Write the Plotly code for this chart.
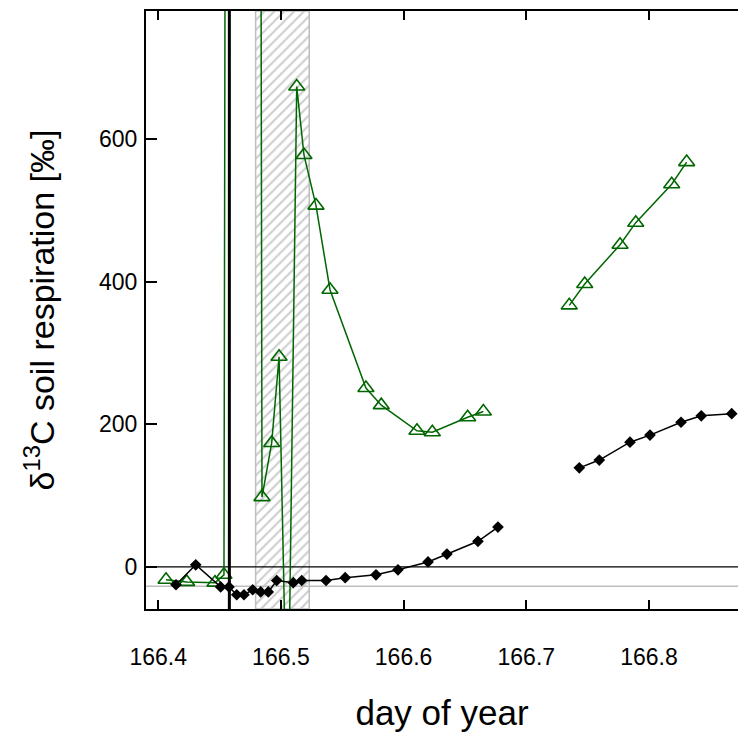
import plotly.graph_objects as go

# ---------------- data ----------------
black_x = [166.4145, 166.4306, 166.4509, 166.4577, 166.4640, 166.4699, 166.4770, 166.4835,
           166.4897, 166.4966, 166.5101, 166.5170, 166.5368, 166.5524, 166.5775, 166.5954,
           166.6199, 166.6353, 166.6606, 166.6769, None,
           166.7432, 166.7595, 166.7845, 166.8008, 166.8261, 166.8426, 166.8674]
black_y = [-25, 3, -28, -28, -39, -39, -32, -35,
           -35, -19, -22, -19, -19, -15, -11, -4,
           7, 18, 36, 56, None,
           139, 150, 175, 185, 203, 212, 215]

green_x = [166.4064, 166.4232, 166.4463, 166.4536, 166.4691, 166.4846, 166.4925, 166.4985,
           166.5055, 166.5129, 166.5188, 166.5286, 166.5400, 166.5693, 166.5818, 166.6109,
           166.6234, 166.6522, 166.6650, None,
           166.7350, 166.7476, 166.7764, 166.7892, 166.8185, 166.8307]
green_y = [-18, -21, -22, -11, 15000, 98, 174, 295,
           -280, 674, 578, 507, 389, 251, 227, 191,
           189, 210, 218, None,
           367, 397, 452, 483, 537, 568]

event_day = 166.4580          # vertical black marker line
band_start, band_end = 166.4794, 166.5231   # hatched period
zero_level = 0
ref_level = -27               # grey reference line

x_range = [166.39006, 166.87253]
y_range = [-59, 780]
x_ticks = [166.4, 166.5, 166.6, 166.7, 166.8]
x_tick_labels = ["166.4", "166.5", "166.6", "166.7", "166.8"]
y_ticks = [0, 200, 400, 600]
y_tick_labels = ["0", "200", "400", "600"]

GREEN = "#006600"
FONT = "Liberation Sans, Arial, sans-serif"

fig = go.Figure()

# hatched band
fig.add_trace(go.Scatter(
    x=[band_start, band_end, band_end, band_start, band_start],
    y=[y_range[0], y_range[0], y_range[1], y_range[1], y_range[0]],
    mode="lines", fill="toself",
    line=dict(color="#bdbdbd", width=1.5),
    fillcolor="white",
    fillpattern=dict(shape="/", fgcolor="#9a9a9a", bgcolor="white", size=7, solidity=0.28),
    hoverinfo="skip", showlegend=False))

# horizontal reference lines
fig.add_trace(go.Scatter(x=x_range, y=[ref_level, ref_level], mode="lines",
                         line=dict(color="#bdbdbd", width=1.5), showlegend=False, hoverinfo="skip"))
fig.add_trace(go.Scatter(x=x_range, y=[zero_level, zero_level], mode="lines",
                         line=dict(color="black", width=1.3), showlegend=False, hoverinfo="skip"))

# green series
fig.add_trace(go.Scatter(
    x=green_x, y=green_y, mode="lines+markers",
    line=dict(color=GREEN, width=1.5),
    marker=dict(symbol="triangle-up-open", size=14, color=GREEN, line=dict(width=1.6, color=GREEN)),
    connectgaps=False, showlegend=False))

# black series
fig.add_trace(go.Scatter(
    x=black_x, y=black_y, mode="lines+markers",
    line=dict(color="black", width=1.5),
    marker=dict(symbol="diamond", size=9, color="black"),
    connectgaps=False, showlegend=False))

# vertical event line
fig.add_shape(type="line", xref="x", yref="paper", x0=event_day, x1=event_day, y0=0, y1=1,
              line=dict(color="black", width=3), layer="above")

fig.update_layout(
    width=738, height=732,
    margin=dict(l=146, r=0, t=11, b=123, autoexpand=False),
    paper_bgcolor="white", plot_bgcolor="white",
    font=dict(family=FONT, color="black"),
    showlegend=False,
)
fig.update_xaxes(
    range=x_range, tickvals=x_ticks, ticktext=x_tick_labels,
    ticks="inside", ticklen=9, tickwidth=2, tickcolor="black",
    showline=True, linecolor="black", linewidth=2, mirror="ticks",
    showgrid=False, zeroline=False, automargin=False,
    tickfont=dict(size=23, family=FONT), ticklabelstandoff=26,
    title=dict(text="day of year", font=dict(size=35, family=FONT), standoff=34),
)
fig.update_yaxes(
    range=y_range, tickvals=y_ticks, ticktext=y_tick_labels,
    ticks="inside", ticklen=11, tickwidth=2, tickcolor="black",
    showline=True, linecolor="black", linewidth=2, mirror=False,
    showgrid=False, zeroline=False, automargin=False,
    tickfont=dict(size=23, family=FONT), ticklabelstandoff=2,
    title=dict(text="δ<sup>13</sup>C soil respiration [‰]", font=dict(size=34, family=FONT), standoff=34),
)

fig.write_html("out.html", config={"displayModeBar": False},
               post_script="document.body.style.margin='0';document.body.style.overflow='hidden';")
